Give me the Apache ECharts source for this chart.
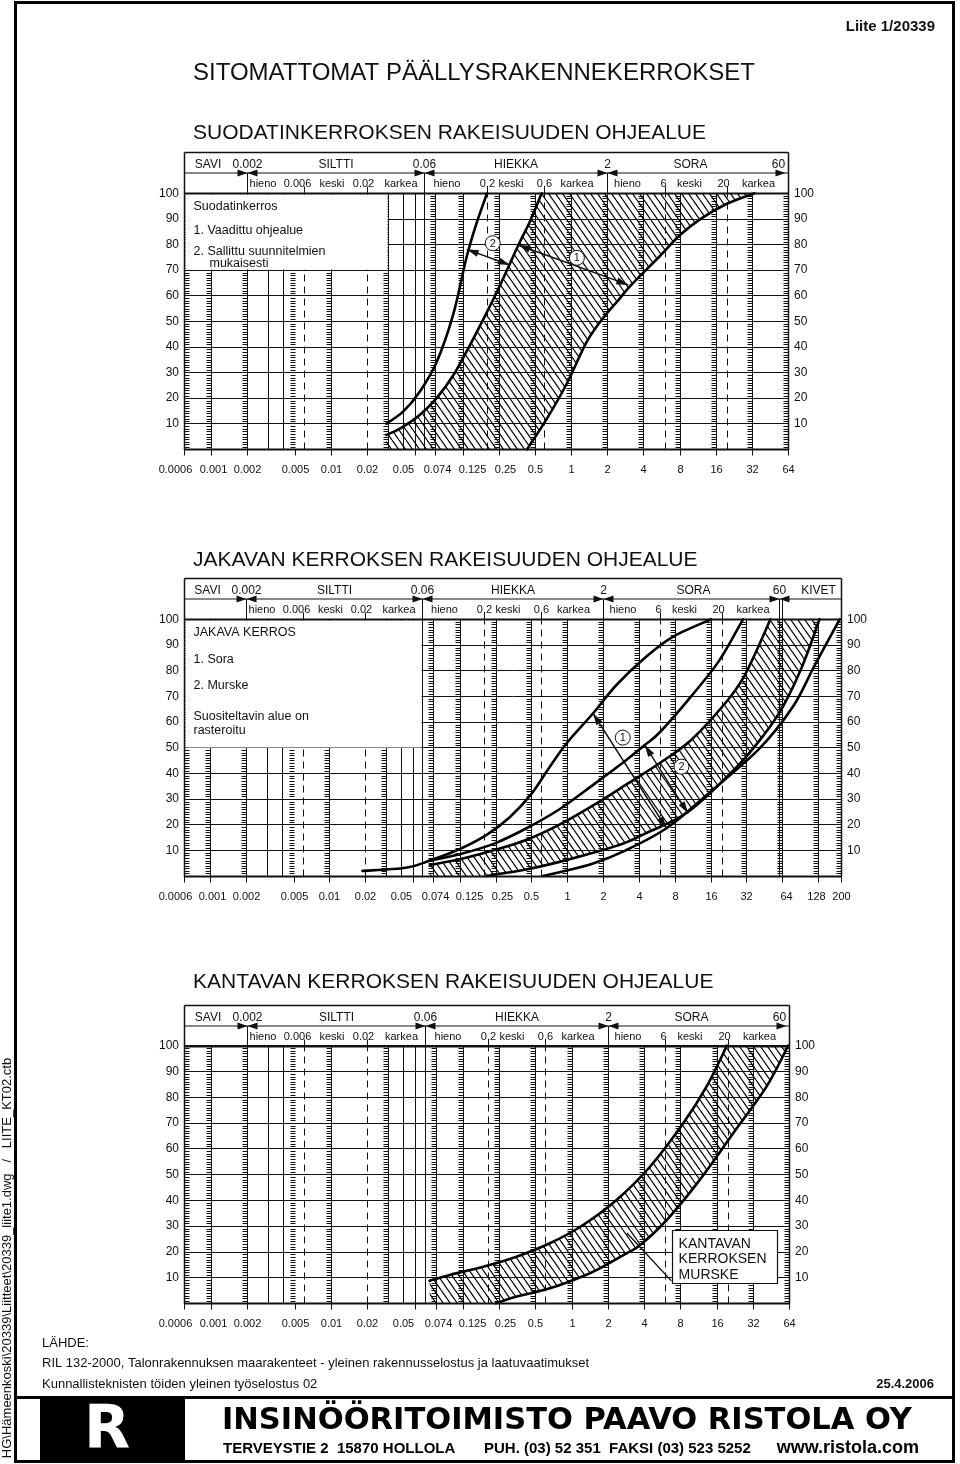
<!DOCTYPE html>
<html>
<head>
<meta charset="utf-8">
<script src="https://cdn.jsdelivr.net/npm/echarts@6/dist/echarts.min.js"></script>
<style>
  html, body { margin: 0; padding: 0; background: #fff; }
  #chart { width: 960px; height: 1464px; }
</style>
</head>
<body>
<div id="chart"></div>
<script>
// Grain size distribution sheets (Liite 1/20339): three log-x charts with
// envelope curves, hatched recommended bands and the fraction header table.

const X_MIN = 0.0006;

// x axis ticks, grain size in mm
const SIEVE_TICKS = [0.0006, 0.001, 0.002, 0.005, 0.01, 0.02, 0.05, 0.074, 0.125, 0.25, 0.5, 1, 2, 4, 8, 16, 32, 64];
const SIEVE_LABELS = ["0.0006", "0.001", "0.002", "0.005", "0.01", "0.02", "0.05", "0.074", "0.125", "0.25", "0.5", "1", "2", "4", "8", "16", "32", "64"];
const STONE_TICKS = [128, 200];
const STONE_LABELS = ["128", "200"];

// vertical rulings of the form
const SOLID_LINES = [0.001, 0.002, 0.003, 0.004, 0.01, 0.03, 0.04, 0.05, 0.06, 0.074, 0.125, 0.25, 0.5, 1, 2, 4, 8, 16, 32];
const DASHED_LINES = [0.006, 0.02, 0.2, 0.6, 6, 20];
const LADDERS = [0.001, 0.002, 0.005, 0.01, 0.03, 0.074, 0.125, 0.25, 0.5, 1, 2, 4, 8, 16, 32];
const STONE_SOLID = [60, 64, 128];
const STONE_LADDERS = [64, 128];

// fraction header
const FRACTION_NAMES = ["SAVI", "SILTTI", "HIEKKA", "SORA"];
const FRACTION_BOUNDS = [0.002, 0.06, 2, 60];
const FRACTION_LABELS = ["0.002", "0.06", "2", "60"];
const SUB_NAMES = ["hieno", "keski", "karkea"];
const SUB_BOUNDS = [0.006, 0.02, 0.2, 0.6, 6, 20];
const SUB_LABELS = ["0.006", "0.02", "0,2", "0,6", "6", "20"];

// 1: suodatinkerros (passing %, by grain size)
const SUOD_ALLOWED = [[0.029, 10], [0.04, 14.7], [0.055, 22.5], [0.076, 34], [0.105, 53], [0.135, 75], [0.164, 88.5], [0.2, 100]];
const SUOD_FINE = [[0.029, 5.6], [0.038, 8.2], [0.055, 13.4], [0.076, 20], [0.105, 29], [0.144, 40.7], [0.2, 53.7], [0.256, 64], [0.32, 74], [0.375, 81], [0.455, 89], [0.57, 100]];
const SUOD_COARSE = [[0.43, 0], [0.63, 12], [0.93, 26], [1.35, 42], [1.9, 52], [2.5, 58.5], [3.0, 63], [4.0, 69], [5.5, 75.5], [8, 83.5], [12, 90], [20, 96], [33.6, 100]];
const SUOD_ARROWS = [[[0.1354, 78.1], [0.31, 72]], [[0.364, 79.8], [3.0, 64.2]]];
const SUOD_MARKS = [["2", 0.2228, 80.5], ["1", 1.119, 74.8]];
const SUOD_LEGEND = ["Suodatinkerros", "1. Vaadittu ohjealue", "2. Sallittu suunnitelmien", "mukaisesti"];

// 2: jakava kerros
const JAK_SORA_FINE = [[0.019, 2], [0.044, 3.2], [0.07, 6], [0.125, 10.5], [0.21, 16], [0.33, 23], [0.5, 32], [0.7, 42], [1.0, 52], [1.65, 63.4], [2.6, 74.5], [4.5, 85], [7.6, 93], [16.2, 100]];
const JAK_MURSKE_FINE = [[0.07, 6], [0.125, 8.5], [0.24, 12.5], [0.45, 18.5], [0.86, 26], [1.65, 35.5], [3.1, 45], [4.48, 51], [6, 56], [11, 70], [19, 84], [30, 100]];
const JAK_BEST_FINE = [[0.07, 4.3], [0.125, 6.5], [0.24, 10], [0.45, 14], [0.86, 20], [1.65, 27.5], [3.1, 35.5], [6, 44], [11, 53], [21, 67], [30, 77], [41, 90], [51, 100]];
const JAK_BEST_COARSE = [[0.21, 0], [0.45, 2.5], [0.86, 5.5], [1.8, 9.5], [3.1, 13], [4.5, 16.5], [10.4, 25], [26, 42], [45, 55], [65, 66], [95, 82], [132, 100]];
const JAK_SORA_COARSE = [[0.62, 0], [0.86, 1.5], [1.65, 4.9], [3.1, 10], [6.82, 18.6], [14.3, 30.9], [41, 49.5], [79, 66], [120, 82], [195, 100]];
const JAK_ARROWS = [[[1.645, 63.4], [6.82, 18.6]], [[4.48, 51], [10.36, 24.4]]];
const JAK_MARKS = [["1", 2.93, 53.9], ["2", 9.12, 42.6]];
const JAK_LEGEND = ["JAKAVA KERROS", "1. Sora", "2. Murske", "Suositeltavin alue on", "rasteroitu"];

// 3: kantava kerros
const KANT_FINE = [[0.066, 8.8], [0.097, 11], [0.184, 14.2], [0.348, 18.1], [0.659, 23.3], [1.244, 30.4], [2.36, 40.1], [4.47, 53], [8.46, 69.9], [13.2, 84.1], [19.5, 100]];
const KANT_COARSE = [[0.235, 0], [0.35, 2.6], [0.66, 5.8], [1.24, 10.5], [1.72, 13.6], [2.86, 19.4], [3.69, 22.5], [6.16, 32.3], [11.6, 47.9], [22, 66], [41.6, 84.1], [63, 100]];
const KANT_LEADER = [[6.74, 8.7], [2.88, 27.3]];
const KANT_NOTE_AT = [6.77, 28.5];
const KANT_NOTE = ["KANTAVAN", "KERROKSEN", "MURSKE"];

const INK = "#111";
const SANS = '"Liberation Sans", Arial, sans-serif';
const NARROW = '"Liberation Sans Narrow", "Arial Narrow", "Liberation Sans", sans-serif';
const HEAVY = '"DejaVu Sans", "Liberation Sans", sans-serif';

function hatchCanvas() {
  const w = 7, h = 10;
  const c = document.createElement("canvas");
  c.width = w;
  c.height = h;
  const ctx = c.getContext("2d");
  ctx.strokeStyle = "#000";
  ctx.lineWidth = 1.25;
  for (const dx of [-w, 0, w]) {
    ctx.beginPath();
    ctx.moveTo(dx, 0);
    ctx.lineTo(dx + w, h);
    ctx.stroke();
  }
  return c;
}
const HATCH = { image: hatchCanvas(), repeat: "repeat" };

const f2 = (v) => v.toFixed(2);

// Catmull-Rom through pixel points, returned as the C segments after the first point.
function splineTail(pts) {
  let d = "";
  for (let i = 0; i < pts.length - 1; i++) {
    const p0 = pts[Math.max(i - 1, 0)];
    const p1 = pts[i];
    const p2 = pts[i + 1];
    const p3 = pts[Math.min(i + 2, pts.length - 1)];
    d += `C${f2(p1[0] + (p2[0] - p0[0]) / 6)} ${f2(p1[1] + (p2[1] - p0[1]) / 6)} ` +
      `${f2(p2[0] - (p3[0] - p1[0]) / 6)} ${f2(p2[1] - (p3[1] - p1[1]) / 6)} ${f2(p2[0])} ${f2(p2[1])}`;
  }
  return d;
}

function arrowHead(tip, from) {
  const dx = tip[0] - from[0], dy = tip[1] - from[1];
  const len = Math.hypot(dx, dy);
  const ux = dx / len, uy = dy / len;
  const bx = tip[0] - ux * 12, by = tip[1] - uy * 12;
  return {
    type: "polygon",
    shape: { points: [tip, [bx - uy * 3.5, by + ux * 3.5], [bx + uy * 3.5, by - ux * 3.5]] },
    style: { fill: INK },
  };
}

// header sub-fraction text nudges (px), one per interval / per boundary label
const SUB_NAME_NUDGE = [-13, -4, 5, -9, -5, 1, -9, -7, 2];
const SUB_LABEL_NUDGE = [-7, -4, 0, 0, -2, -4];

function makeDecor(cfg) {
  return function (params, api) {
    if (params.dataIndex !== 0) return null;
    const P = (x, y) => api.coord([x, y]);
    const cx = (v) => Math.round(P(v, 50)[0]) + 0.5;
    const cy = (v) => Math.round(P(1, v)[1]) + 0.5;
    const left = cx(X_MIN), right = cx(cfg.xMax);
    const top = cy(100), bottom = cy(0);
    const hTop = top - 41, hMid = top - 20.5;
    const kids = [];

    const stroke = (d, w, dash) => {
      if (d) kids.push({ type: "path", shape: { pathData: d }, style: { fill: "none", stroke: INK, lineWidth: w, lineDash: dash || null } });
    };
    const text = (s, x, y, font, align) => kids.push({
      type: "text",
      style: {
        text: s, x, y, font, fill: INK,
        textAlign: align || "center", align: align || "center",
        textVerticalAlign: "middle", verticalAlign: "middle",
      },
    });
    const vline = (v, y0, y1) => `M${cx(v)} ${y0}L${cx(v)} ${y1}`;

    // rulings
    stroke(cfg.solid.map((v) => vline(v, bottom, top)).join(""), 1);
    stroke(DASHED_LINES.map((v) => vline(v, bottom, top)).join(""), 1, [7, 5]);
    let t = "";
    for (let p = 1; p < 100; p++) {
      if (p % 10 === 0) continue;
      const y = cy(p);
      for (const v of cfg.ladders) t += `M${cx(v) - 5} ${y}L${cx(v)} ${y}`;
      t += `M${left} ${y}L${left + 5} ${y}M${right - 5} ${y}L${right} ${y}`;
    }
    stroke(t, 1);

    // legend panel blanks the rulings behind it
    if (cfg.legend) {
      const bx = cx(cfg.legendBox[0]) - 1, by = cy(cfg.legendBox[1]) - 1;
      kids.push({ type: "rect", shape: { x: left + 1, y: top + 1, width: bx - left - 1, height: by - top - 1 }, style: { fill: "#fff" } });
      cfg.legend.forEach((s, i) => {
        const [dx, dy] = cfg.legendPos[i];
        text(s, left + dx, top + dy, `12.5px ${SANS}`, "left");
      });
    }

    // hatched band
    const up = cfg.band[0].map((p) => P(p[0], p[1]));
    const lo = cfg.band[1].map((p) => P(p[0], p[1])).reverse();
    const s0 = P(cfg.band[0][0][0], 0);
    kids.push({
      type: "path",
      shape: { pathData: `M${f2(s0[0])} ${f2(s0[1])}L${f2(up[0][0])} ${f2(up[0][1])}` + splineTail(up) + `L${f2(lo[0][0])} ${f2(lo[0][1])}` + splineTail(lo) + "Z" },
      style: { fill: HATCH, stroke: "none" },
    });

    // envelope curves
    for (const c of cfg.curves) {
      const pts = c.map((p) => P(p[0], p[1]));
      kids.push({
        type: "path",
        shape: { pathData: `M${f2(pts[0][0])} ${f2(pts[0][1])}` + splineTail(pts) },
        style: { fill: "none", stroke: "#000", lineWidth: 2.6, lineJoin: "round", lineCap: "round" },
      });
    }

    // frame + header table
    stroke(`M${left} ${top}L${right} ${top}M${left} ${bottom}L${right} ${bottom}`, 2);
    stroke(`M${left} ${bottom + 0.5}L${left} ${hTop}M${right} ${bottom + 0.5}L${right} ${hTop}M${left} ${hTop}L${right} ${hTop}`, 1.5);
    stroke(`M${left} ${hMid}L${right} ${hMid}` + cfg.rowSeps.map((v) => vline(v, hMid, top)).join(""), 1);
    stroke(SUB_BOUNDS.map((v) => vline(v, top, top - 7)).join(""), 1);

    const row1 = (hTop + hMid) / 2 + 2, row2 = (hMid + top) / 2 + 0.5;
    cfg.names.forEach((s, i) => {
      const x = (cx(cfg.nameEdges[i]) + cx(cfg.nameEdges[i + 1])) / 2 + cfg.nameNudge[i];
      text(s, x, row1, `12px ${SANS}`);
    });
    FRACTION_BOUNDS.forEach((b, i) => {
      const x = cx(b);
      text(FRACTION_LABELS[i], x + cfg.boundNudge[i], row1, `12px ${SANS}`);
      kids.push({ type: "polygon", shape: { points: [[x - 10, hMid - 3.5], [x, hMid], [x - 10, hMid + 3.5]] }, style: { fill: INK } });
      if (x + 10 < right) kids.push({ type: "polygon", shape: { points: [[x + 10, hMid - 3.5], [x, hMid], [x + 10, hMid + 3.5]] }, style: { fill: INK } });
    });
    const subEdges = [0.002, 0.006, 0.02, 0.06, 0.2, 0.6, 2, 6, 20, 60];
    for (let i = 0; i < subEdges.length - 1; i++) {
      const x = (cx(subEdges[i]) + cx(subEdges[i + 1])) / 2 + SUB_NAME_NUDGE[i];
      text(SUB_NAMES[i % 3], x, row2, `11px ${SANS}`);
    }
    SUB_BOUNDS.forEach((b, i) => text(SUB_LABELS[i], cx(b) + SUB_LABEL_NUDGE[i], row2, `11px ${SANS}`));

    // x axis ticks and labels
    stroke(cfg.ticks.map((v) => vline(v, bottom, bottom + 6)).join(""), 1);
    cfg.ticks.forEach((v, i) => text(cfg.labels[i], cx(v) + (cfg.labelNudge[cfg.labels[i]] || 0), bottom + 20, `11px ${NARROW}`));

    // dimension arrows with numbered circles
    for (const [a, b] of cfg.arrows || []) {
      const pa = P(a[0], a[1]), pb = P(b[0], b[1]);
      stroke(`M${f2(pa[0])} ${f2(pa[1])}L${f2(pb[0])} ${f2(pb[1])}`, 1.4);
      kids.push(arrowHead(pa, pb), arrowHead(pb, pa));
    }
    for (const [s, x, y] of cfg.marks || []) {
      const p = P(x, y);
      kids.push({ type: "circle", shape: { cx: p[0], cy: p[1], r: 7.5 }, style: { fill: "#fff", stroke: INK, lineWidth: 1 } });
      text(s, p[0], p[1] + 0.5, `11px ${SANS}`);
    }

    // callout box
    if (cfg.note) {
      const a = P(cfg.leader[0][0], cfg.leader[0][1]), b = P(cfg.leader[1][0], cfg.leader[1][1]);
      stroke(`M${f2(a[0])} ${f2(a[1])}L${f2(b[0])} ${f2(b[1])}`, 1.4);
      const q = P(cfg.noteAt[0], cfg.noteAt[1]);
      kids.push({ type: "rect", shape: { x: Math.round(q[0]) + 0.5, y: Math.round(q[1]) + 0.5, width: 105, height: 53 }, style: { fill: "#fff", stroke: INK, lineWidth: 1.2 } });
      cfg.note.forEach((s, i) => text(s, q[0] + 7, q[1] + 14 + i * 15.5, `14px ${SANS}`, "left"));
    }

    return { type: "group", children: kids };
  };
}

const BASE_NUDGE = { "0.0006": -9, "0.001": 2, "0.05": -12, "0.074": 2, "0.125": 9, "0.25": 6 };

const CHARTS = [
  {
    grid: { left: 184, top: 193.3, width: 604, height: 256 },
    xMax: 64,
    ticks: SIEVE_TICKS, labels: SIEVE_LABELS, labelNudge: BASE_NUDGE,
    solid: SOLID_LINES, ladders: LADDERS,
    rowSeps: [0.002, 0.06, 2],
    names: FRACTION_NAMES, nameEdges: [X_MIN, ...FRACTION_BOUNDS], nameNudge: [-8, 0, 0, -6],
    boundNudge: [0, 0, 0, -7],
    legend: SUOD_LEGEND, legendBox: [0.03, 70],
    legendPos: [[9, 13.5], [9, 37], [9, 58], [25, 70.5]],
    band: [SUOD_FINE, SUOD_COARSE],
    curves: [SUOD_ALLOWED, SUOD_FINE, SUOD_COARSE],
    arrows: SUOD_ARROWS, marks: SUOD_MARKS,
  },
  {
    grid: { left: 184, top: 619.3, width: 657, height: 256.7 },
    xMax: 200,
    ticks: [...SIEVE_TICKS, ...STONE_TICKS], labels: [...SIEVE_LABELS, ...STONE_LABELS],
    labelNudge: { ...BASE_NUDGE, "64": 4, "128": -2 },
    solid: [...SOLID_LINES, ...STONE_SOLID], ladders: [...LADDERS, ...STONE_LADDERS],
    rowSeps: [0.002, 0.06, 2, 60, 64],
    names: [...FRACTION_NAMES, "KIVET"], nameEdges: [X_MIN, ...FRACTION_BOUNDS, 200], nameNudge: [-8, 0, 0, 2, 8],
    boundNudge: [0, 0, 0, 0],
    legend: JAK_LEGEND, legendBox: [0.06, 50],
    legendPos: [[9, 13], [9, 40.5], [9, 66.5], [9, 97.5], [9, 110.8]],
    band: [JAK_BEST_FINE, JAK_BEST_COARSE],
    curves: [JAK_SORA_FINE, JAK_MURSKE_FINE, JAK_BEST_FINE, JAK_BEST_COARSE, JAK_SORA_COARSE],
    arrows: JAK_ARROWS, marks: JAK_MARKS,
  },
  {
    grid: { left: 184, top: 1045.7, width: 605, height: 257.6 },
    xMax: 64,
    ticks: SIEVE_TICKS, labels: SIEVE_LABELS, labelNudge: BASE_NUDGE,
    solid: SOLID_LINES, ladders: LADDERS,
    rowSeps: [0.002, 0.06, 2],
    names: FRACTION_NAMES, nameEdges: [X_MIN, ...FRACTION_BOUNDS], nameNudge: [-8, 0, 0, -6],
    boundNudge: [0, 0, 0, -7],
    band: [KANT_FINE, KANT_COARSE],
    curves: [KANT_FINE, KANT_COARSE],
    note: KANT_NOTE, noteAt: KANT_NOTE_AT, leader: KANT_LEADER,
  },
];

const yLabel = { margin: 5, fontSize: 12, fontFamily: NARROW, color: INK, formatter: (v) => (v === 0 ? "" : String(v)) };

const option = {
  animation: false,
  backgroundColor: "#fff",
  grid: CHARTS.map((c) => c.grid),
  xAxis: CHARTS.map((c, i) => ({ gridIndex: i, type: "log", logBase: 10, min: X_MIN, max: c.xMax, show: false })),
  yAxis: CHARTS.flatMap((c, i) => [
    {
      gridIndex: i, type: "value", min: 0, max: 100, interval: 10, position: "left",
      axisLine: { show: false }, axisTick: { show: false }, axisLabel: yLabel,
      splitLine: { show: true, lineStyle: { color: INK, width: 1 } },
    },
    {
      gridIndex: i, type: "value", min: 0, max: 100, interval: 10, position: "right",
      axisLine: { show: false }, axisTick: { show: false }, axisLabel: { ...yLabel, margin: 6 },
      splitLine: { show: false },
    },
  ]),
  series: CHARTS.map((c, i) => ({
    type: "custom",
    xAxisIndex: i,
    yAxisIndex: 2 * i,
    clip: false,
    silent: true,
    z: 5,
    data: [[1, 50]],
    renderItem: makeDecor(c),
  })),
  graphic: {
    elements: [
      { type: "rect", shape: { x: 15.5, y: 2.5, width: 938, height: 1459 }, style: { fill: "none", stroke: "#000", lineWidth: 3 } },
      { type: "text", style: { text: "Liite 1/20339", x: 935, y: 27, font: `bold 15px ${SANS}`, fill: INK, textAlign: "right", textVerticalAlign: "middle" } },
      { type: "text", style: { text: "SITOMATTOMAT PÄÄLLYSRAKENNEKERROKSET", x: 193, y: 73, font: `24px ${SANS}`, fill: INK, textAlign: "left", textVerticalAlign: "middle" } },
      { type: "text", style: { text: "SUODATINKERROKSEN RAKEISUUDEN OHJEALUE", x: 193, y: 133, font: `21px ${SANS}`, fill: INK, textAlign: "left", textVerticalAlign: "middle" } },
      { type: "text", style: { text: "JAKAVAN KERROKSEN RAKEISUUDEN OHJEALUE", x: 193, y: 560, font: `21px ${SANS}`, fill: INK, textAlign: "left", textVerticalAlign: "middle" } },
      { type: "text", style: { text: "KANTAVAN KERROKSEN RAKEISUUDEN OHJEALUE", x: 193, y: 982, font: `21px ${SANS}`, fill: INK, textAlign: "left", textVerticalAlign: "middle" } },
      { type: "text", x: 7, y: 1258, rotation: Math.PI / 2, style: { text: "HG\\Hämeenkoski\\20339\\Liitteet\\20339_liite1.dwg   /   LIITE_KT02.ctb", x: 0, y: 0, font: `13px ${SANS}`, fill: INK, textAlign: "center", textVerticalAlign: "middle" } },
      { type: "text", style: { text: "LÄHDE:", x: 42, y: 1343, font: `13px ${SANS}`, fill: INK, textAlign: "left", textVerticalAlign: "middle" } },
      { type: "text", style: { text: "RIL 132-2000, Talonrakennuksen maarakenteet - yleinen rakennusselostus ja laatuvaatimukset", x: 42, y: 1363, font: `13px ${SANS}`, fill: INK, textAlign: "left", textVerticalAlign: "middle" } },
      { type: "text", style: { text: "Kunnallisteknisten töiden yleinen työselostus 02", x: 42, y: 1384, font: `13px ${SANS}`, fill: INK, textAlign: "left", textVerticalAlign: "middle" } },
      { type: "text", style: { text: "25.4.2006", x: 934, y: 1384, font: `bold 13px ${SANS}`, fill: INK, textAlign: "right", textVerticalAlign: "middle" } },
      { type: "line", shape: { x1: 15, y1: 1397.5, x2: 954, y2: 1397.5 }, style: { stroke: "#000", lineWidth: 3 } },
      { type: "rect", shape: { x: 40, y: 1398, width: 145, height: 64 }, style: { fill: "#000" } },
      { type: "text", style: { text: "R", x: 107, y: 1432, font: `bold 60px ${HEAVY}`, fill: "#fff", textAlign: "center", textVerticalAlign: "middle" } },
      { type: "text", style: { text: "INSINÖÖRITOIMISTO PAAVO RISTOLA OY", x: 222, y: 1421, font: `bold 30.5px ${HEAVY}`, fill: "#000", textAlign: "left", textVerticalAlign: "middle" } },
      { type: "text", style: { text: "TERVEYSTIE 2  15870 HOLLOLA", x: 223, y: 1449, font: `bold 15px ${SANS}`, fill: "#000", textAlign: "left", textVerticalAlign: "middle" } },
      { type: "text", style: { text: "PUH. (03) 52 351  FAKSI (03) 523 5252", x: 484, y: 1449, font: `bold 15px ${SANS}`, fill: "#000", textAlign: "left", textVerticalAlign: "middle" } },
      { type: "text", style: { text: "www.ristola.com", x: 919, y: 1448, font: `bold 18px ${SANS}`, fill: "#000", textAlign: "right", textVerticalAlign: "middle" } },
    ],
  },
};

const chart = echarts.init(document.getElementById("chart"), null, { renderer: "canvas" });
chart.setOption(option);
</script>
</body>
</html>
